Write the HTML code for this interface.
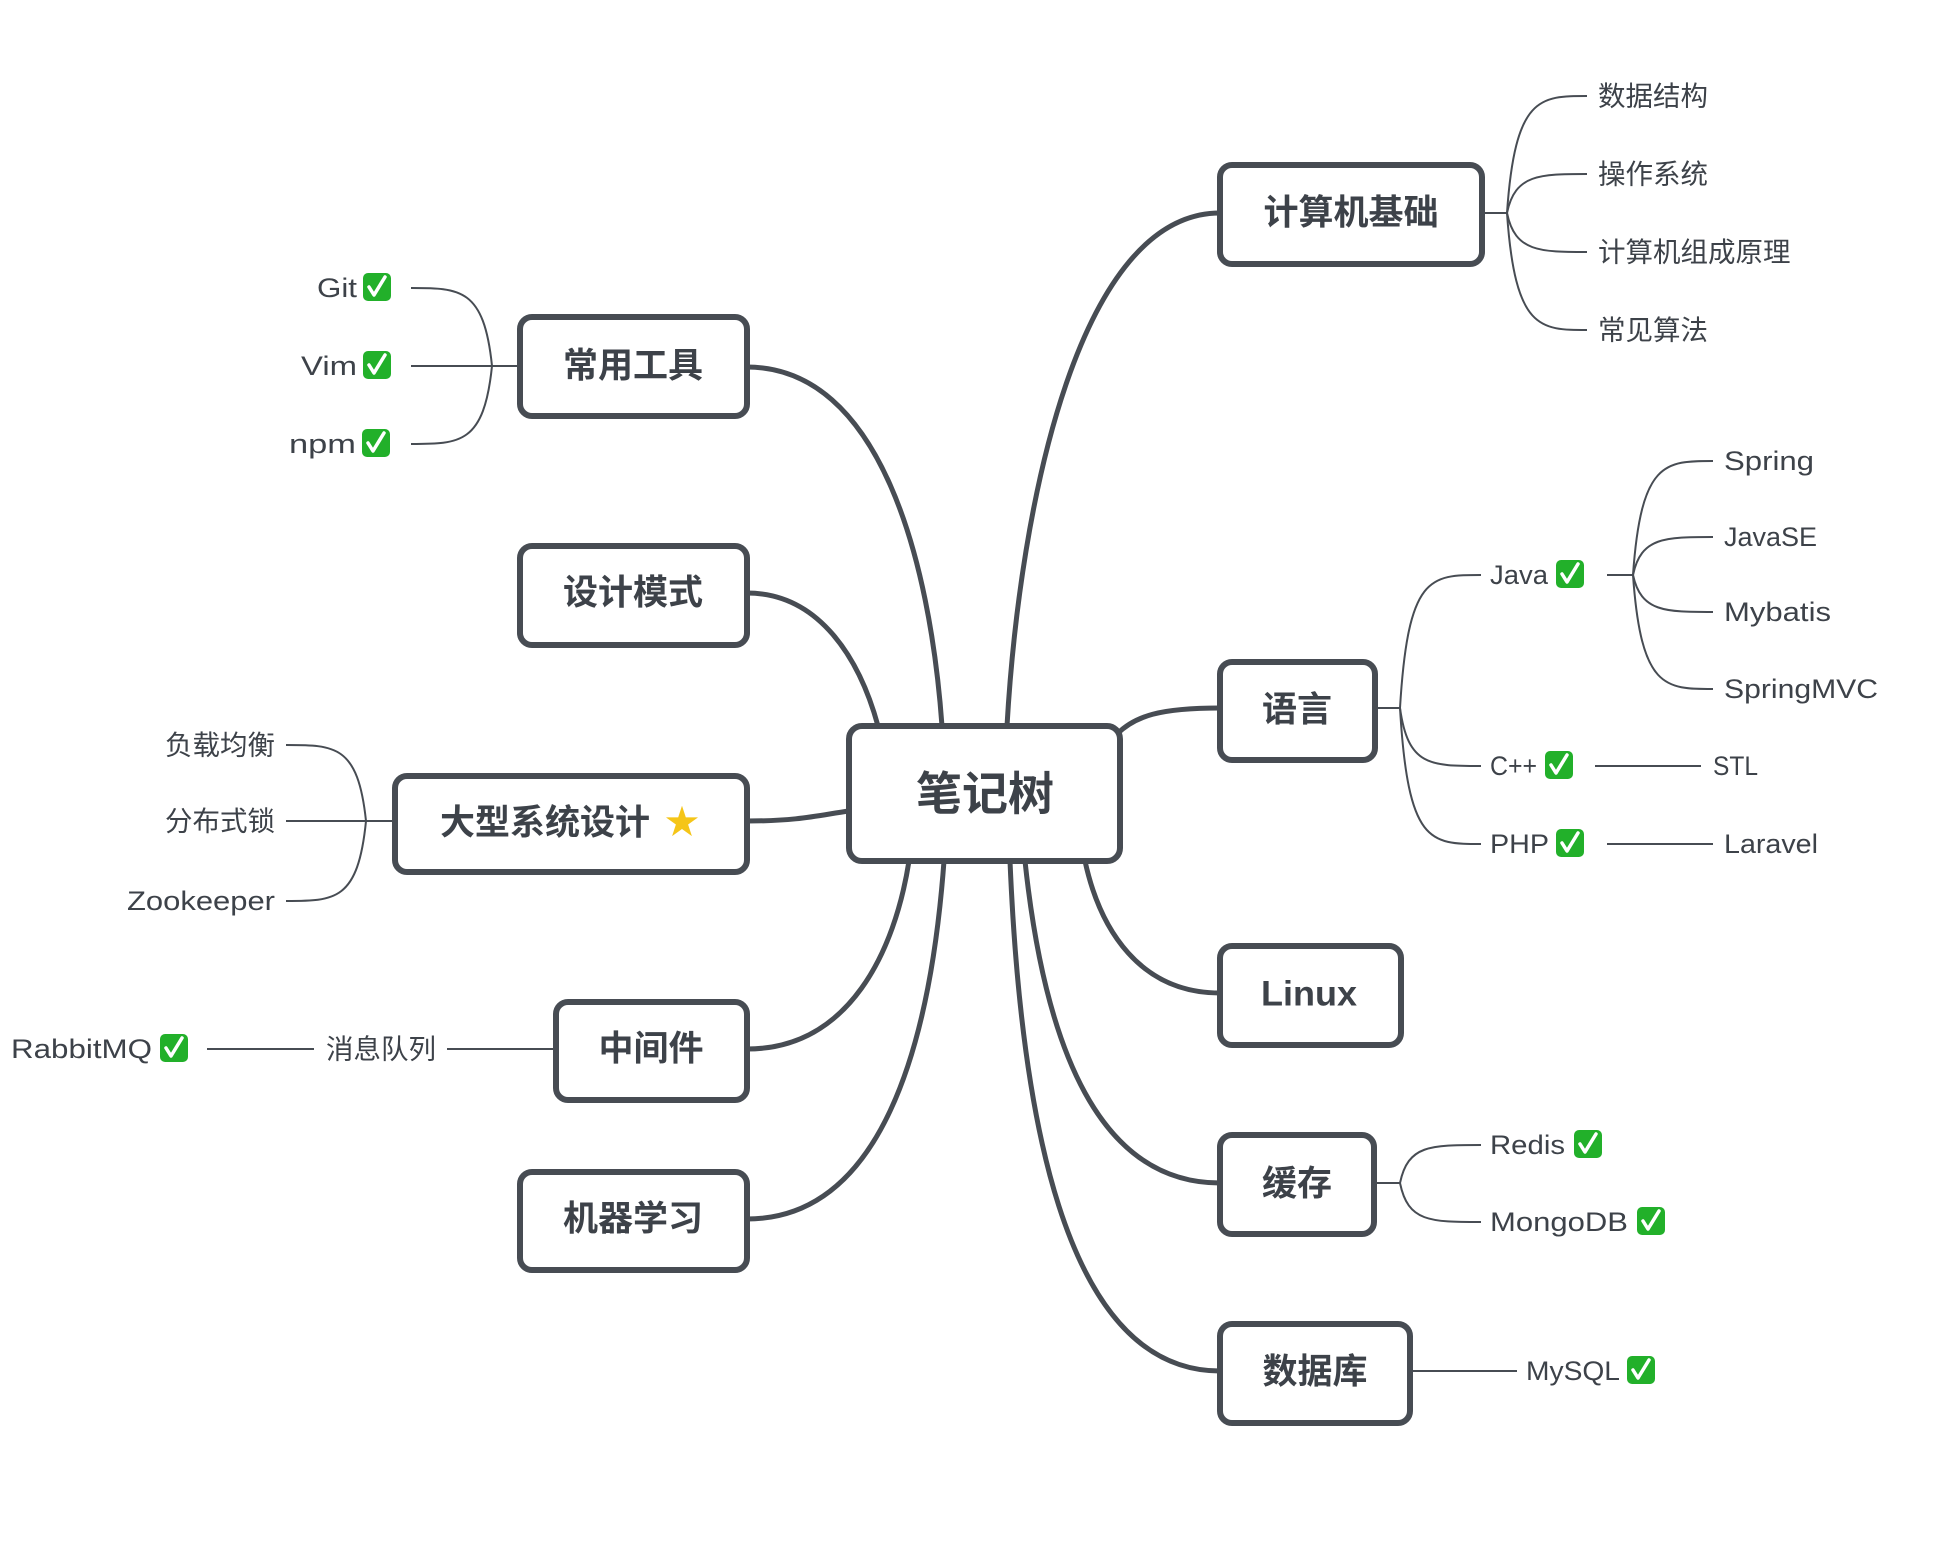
<!DOCTYPE html>
<html><head><meta charset="utf-8"><style>
html,body{margin:0;padding:0;background:#fff;}
svg{display:block;}
text{font-family:"Liberation Sans","Noto Sans CJK SC",sans-serif;fill:#3d4249;}
.b{font-size:35px;font-weight:bold;}
.l{font-size:27.5px;}
.e{font-size:27px;}
</style></head><body>
<svg width="1956" height="1554" viewBox="0 0 1956 1554" xmlns="http://www.w3.org/2000/svg">
<defs>
<g id="ck"><rect x="0" y="-14" width="28" height="28" rx="5" fill="#22b02a"/><path d="M6,0 L11,8 L22,-10" stroke="#fff" stroke-width="3.5" fill="none" stroke-linecap="round" stroke-linejoin="round"/></g>
</defs>
<g fill="none" stroke="#474c53" stroke-width="5">
<path d="M747,367 C880,367 930,560 942,726"/>
<path d="M747,593 C820,593 860,660 878,726"/>
<path d="M747,821 C800,821 820,815 849,811"/>
<path d="M747,1049 C850,1049 895,950 909,861"/>
<path d="M747,1219 C880,1219 930,1050 944,861"/>
<path d="M1220,213 C1080,213 1020,500 1007,726"/>
<path d="M1220,708 C1160,708 1135,716 1117,734"/>
<path d="M1220,993 C1140,993 1100,930 1085,861"/>
<path d="M1220,1183 C1100,1183 1045,1050 1025,861"/>
<path d="M1220,1371 C1060,1371 1020,1100 1010,861"/>
</g>
<g fill="none" stroke="#474c53" stroke-width="2">
<path d="M1482,213 H1507"/>
<path d="M1507,213 C1515,96 1540,96 1587,96"/>
<path d="M1507,213 C1515,174 1540,174 1587,174"/>
<path d="M1507,213 C1515,252 1540,252 1587,252"/>
<path d="M1507,213 C1515,330 1540,330 1587,330"/>
<path d="M1375,708 H1400"/>
<path d="M1400,708 C1408,575 1430,575 1481,575"/>
<path d="M1400,708 C1408,766 1430,766 1481,766"/>
<path d="M1400,708 C1408,844 1430,844 1481,844"/>
<path d="M1607,575 H1633"/>
<path d="M1633,575 C1641,461 1665,461 1713,461"/>
<path d="M1633,575 C1641,537 1665,537 1713,537"/>
<path d="M1633,575 C1641,612 1665,612 1713,612"/>
<path d="M1633,575 C1641,689 1665,689 1713,689"/>
<path d="M1595,766 H1701"/>
<path d="M1607,844 H1713"/>
<path d="M1374,1183 H1400"/>
<path d="M1400,1183 C1408,1145 1430,1145 1481,1145"/>
<path d="M1400,1183 C1408,1222 1430,1222 1481,1222"/>
<path d="M1410,1371 H1517"/>
<path d="M520,366 H411"/>
<path d="M492,366 C484,288 460,288 411,288"/>
<path d="M492,366 C484,444 460,444 411,444"/>
<path d="M395,821 H286"/>
<path d="M366,821 C358,745 335,745 286,745"/>
<path d="M366,821 C358,901 335,901 286,901"/>
<path d="M556,1049 H447"/>
<path d="M314,1049 H207"/>
</g>
<g fill="#fff" stroke="#474c53" stroke-width="6">
<rect x="849" y="726" width="271" height="135" rx="13"/>
<rect x="520" y="317" width="227" height="99" rx="12"/>
<rect x="520" y="546" width="227" height="99" rx="12"/>
<rect x="395" y="776" width="352" height="96" rx="12"/>
<rect x="556" y="1002" width="191" height="98" rx="12"/>
<rect x="520" y="1172" width="227" height="98" rx="12"/>
<rect x="1220" y="165" width="262" height="99" rx="12"/>
<rect x="1220" y="662" width="155" height="98" rx="12"/>
<rect x="1220" y="946" width="181" height="99" rx="12"/>
<rect x="1220" y="1135" width="154" height="99" rx="12"/>
<rect x="1220" y="1324" width="190" height="99" rx="12"/>
</g>
<g dominant-baseline="central">
<text x="985" y="794" text-anchor="middle" style="font-size:46px;font-weight:bold">笔记树</text>
<text x="633" y="366" text-anchor="middle" class="b">常用工具</text>
<text x="633" y="593" text-anchor="middle" class="b">设计模式</text>
<text x="440" y="823" class="b">大型系统设计</text>
<text x="665" y="823" style="font-size:34px;fill:#f5c518">★</text>
<text x="651" y="1049" text-anchor="middle" class="b">中间件</text>
<text x="633" y="1219" text-anchor="middle" class="b">机器学习</text>
<text x="1351" y="213" text-anchor="middle" class="b">计算机基础</text>
<text x="1297" y="710" text-anchor="middle" class="b">语言</text>
<text x="1261" y="994" class="b" textLength="96" lengthAdjust="spacingAndGlyphs">Linux</text>
<text x="1297" y="1184" text-anchor="middle" class="b">缓存</text>
<text x="1315" y="1372" text-anchor="middle" class="b">数据库</text>

<text x="1598" y="96" class="l">数据结构</text>
<text x="1598" y="174" class="l">操作系统</text>
<text x="1598" y="252" class="l">计算机组成原理</text>
<text x="1598" y="330" class="l">常见算法</text>
<text x="1490" y="575" class="e" textLength="58" lengthAdjust="spacingAndGlyphs">Java</text>
<text x="1490" y="766" class="e" textLength="47" lengthAdjust="spacingAndGlyphs">C++</text>
<text x="1490" y="844" class="e" textLength="59" lengthAdjust="spacingAndGlyphs">PHP</text>
<text x="1724" y="461" class="e" textLength="90" lengthAdjust="spacingAndGlyphs">Spring</text>
<text x="1724" y="537" class="e" textLength="93" lengthAdjust="spacingAndGlyphs">JavaSE</text>
<text x="1724" y="612" class="e" textLength="107" lengthAdjust="spacingAndGlyphs">Mybatis</text>
<text x="1724" y="689" class="e" textLength="154" lengthAdjust="spacingAndGlyphs">SpringMVC</text>
<text x="1713" y="766" class="e" textLength="45" lengthAdjust="spacingAndGlyphs">STL</text>
<text x="1724" y="844" class="e" textLength="94" lengthAdjust="spacingAndGlyphs">Laravel</text>
<text x="1490" y="1145" class="e" textLength="75" lengthAdjust="spacingAndGlyphs">Redis</text>
<text x="1490" y="1222" class="e" textLength="138" lengthAdjust="spacingAndGlyphs">MongoDB</text>
<text x="1526" y="1371" class="e" textLength="94" lengthAdjust="spacingAndGlyphs">MySQL</text>
<text x="317" y="288" class="e" textLength="40" lengthAdjust="spacingAndGlyphs">Git</text>
<text x="301" y="366" class="e" textLength="56" lengthAdjust="spacingAndGlyphs">Vim</text>
<text x="289" y="444" class="e" textLength="67" lengthAdjust="spacingAndGlyphs">npm</text>
<text x="275" y="745" text-anchor="end" class="l">负载均衡</text>
<text x="275" y="821" text-anchor="end" class="l">分布式锁</text>
<text x="127" y="901" class="e" textLength="148" lengthAdjust="spacingAndGlyphs">Zookeeper</text>
<text x="326" y="1049" class="l">消息队列</text>
<text x="11" y="1049" class="e" textLength="141" lengthAdjust="spacingAndGlyphs">RabbitMQ</text>
</g>
<use href="#ck" x="1556" y="574"/>
<use href="#ck" x="1545" y="765"/>
<use href="#ck" x="1556" y="843"/>
<use href="#ck" x="1574" y="1144"/>
<use href="#ck" x="1637" y="1221"/>
<use href="#ck" x="1627" y="1370"/>
<use href="#ck" x="363" y="287"/>
<use href="#ck" x="363" y="365"/>
<use href="#ck" x="362" y="443"/>
<use href="#ck" x="160" y="1048"/>
</svg>
</body></html>
